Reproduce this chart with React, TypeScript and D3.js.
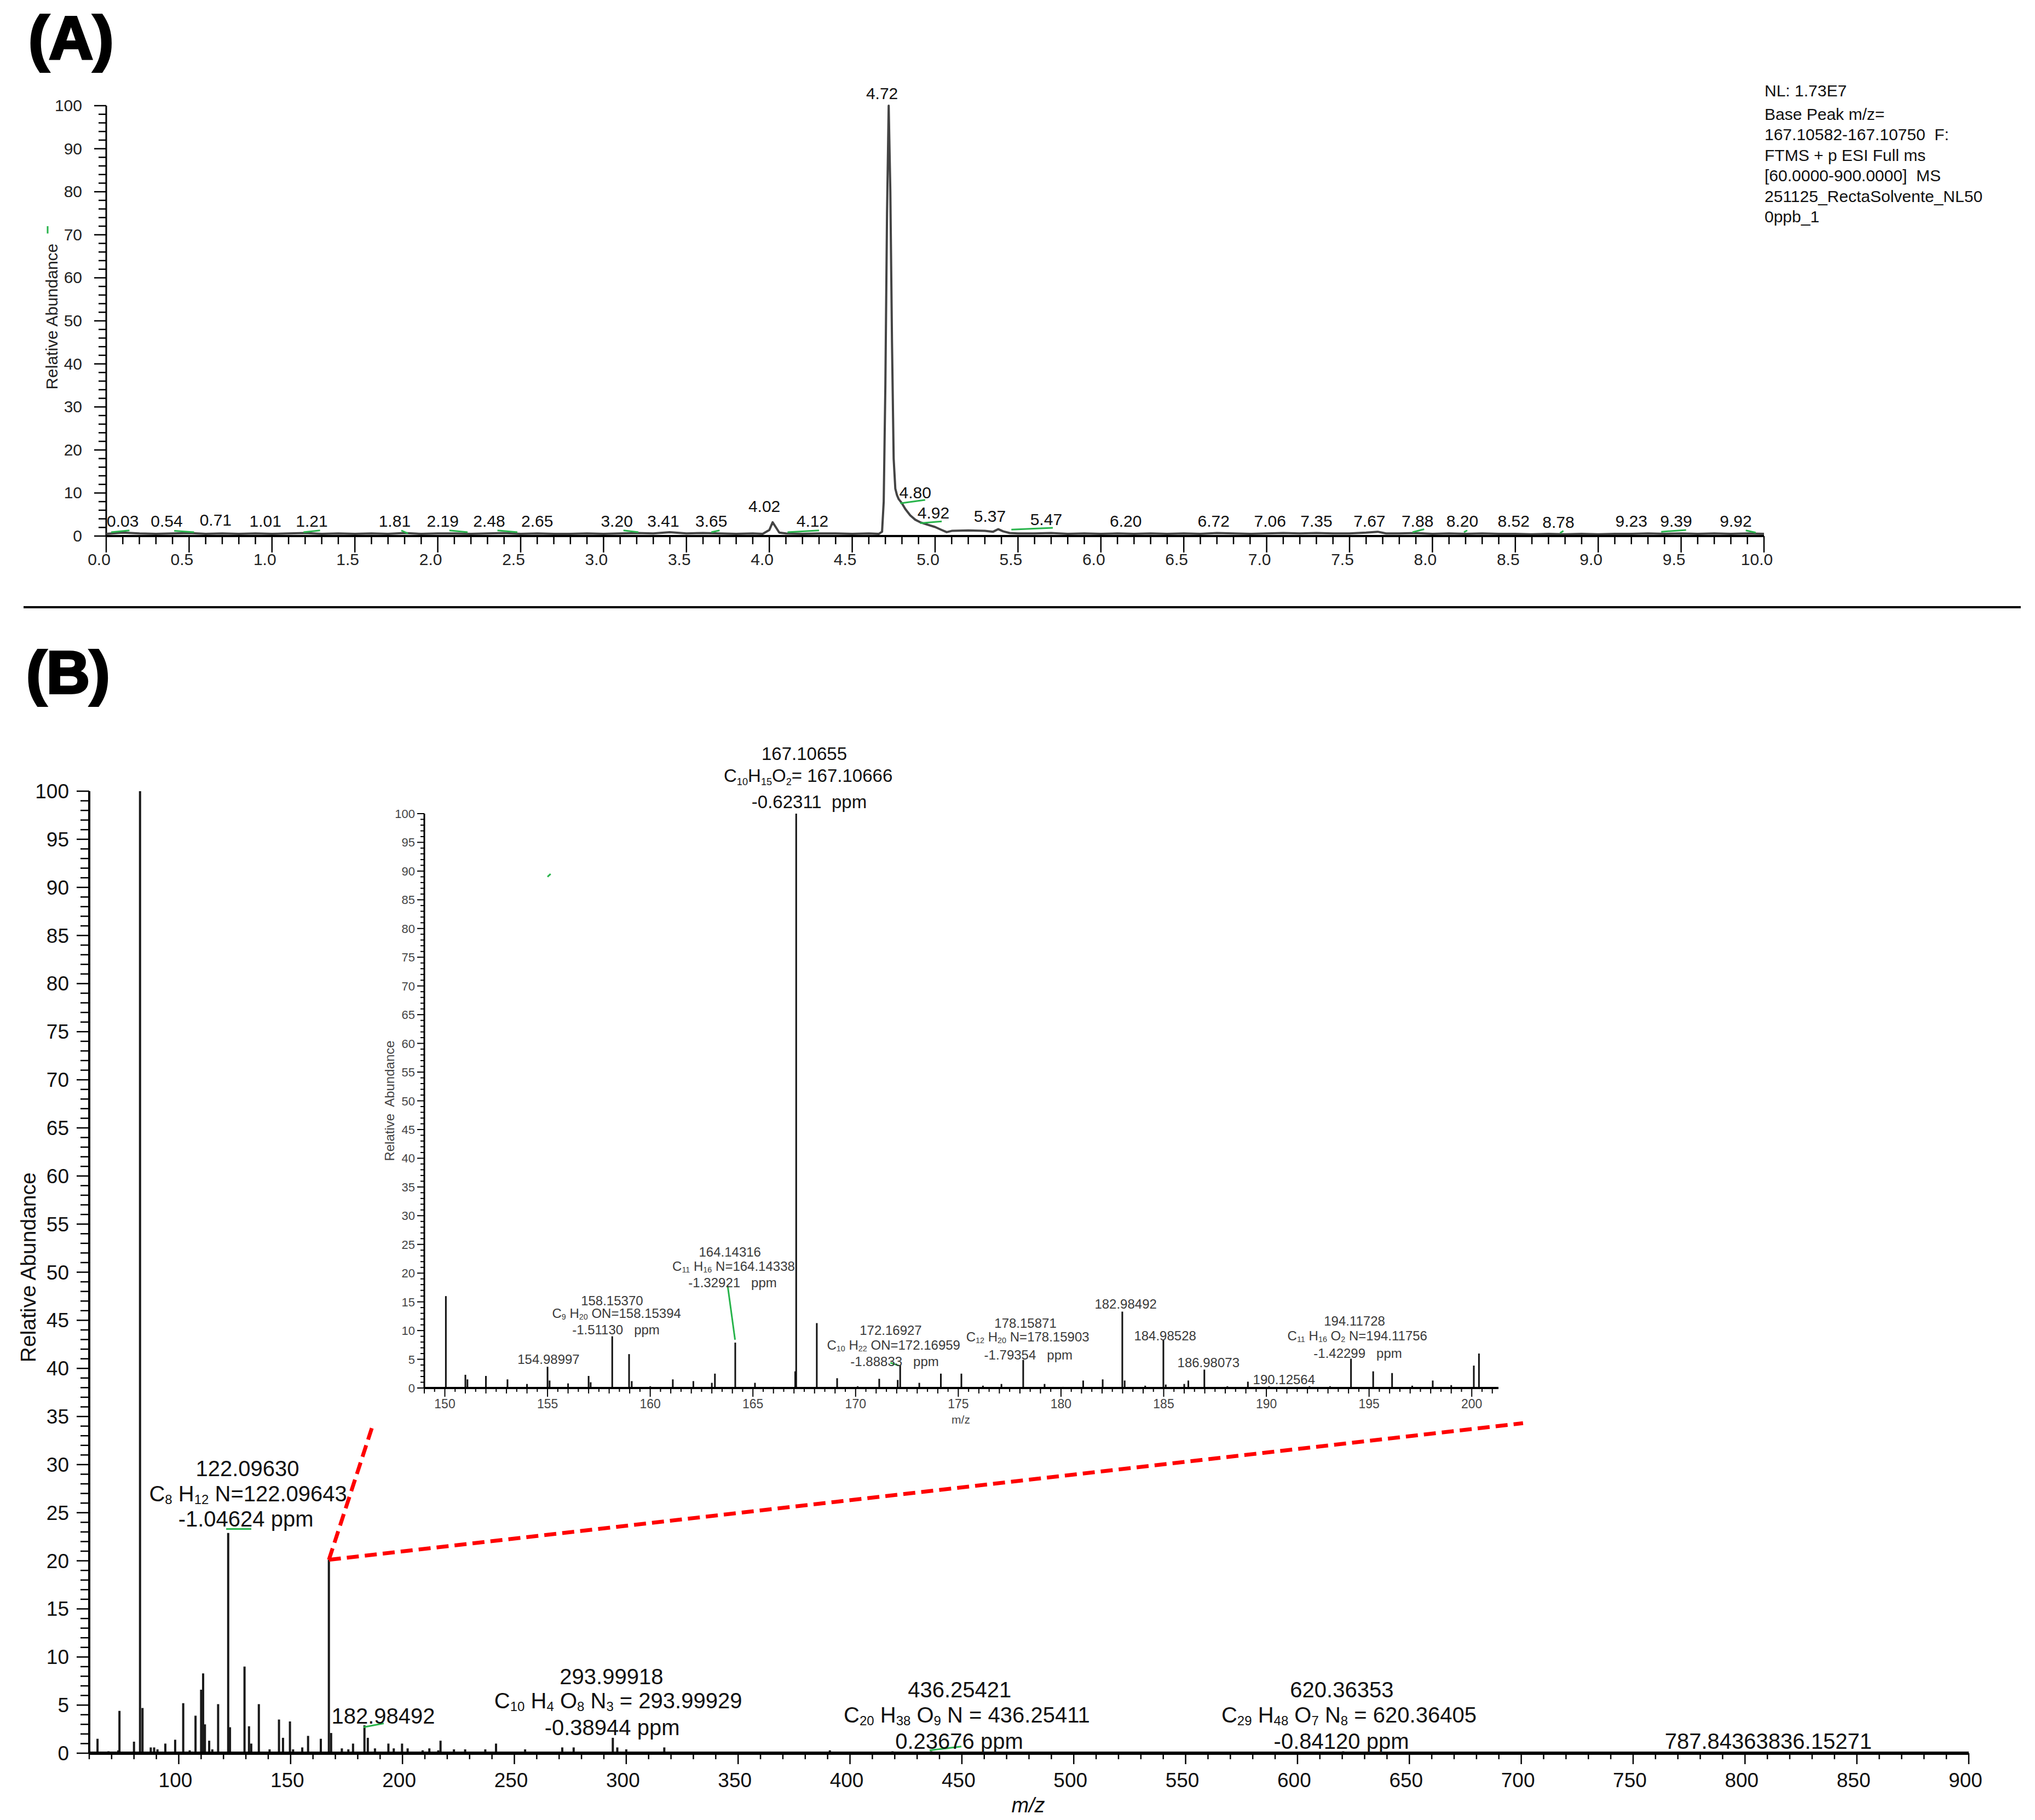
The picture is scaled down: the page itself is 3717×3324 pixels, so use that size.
import React from "react";
import * as d3 from "d3";

const W = 3717;
const H = 3324;
const FONT = "'Liberation Sans', Arial, Helvetica, sans-serif";
const GREEN = "#27b34a";

// ---------------- Panel A : chromatogram ----------------
const chromTime = [
  0.0, 0.1, 0.2, 0.3, 0.4, 0.5, 0.6, 0.7, 0.8, 0.9, 1.0, 1.1, 1.2, 1.3, 1.4, 1.5, 1.6, 1.7, 1.8, 1.9,
  2.0, 2.1, 2.2, 2.3, 2.4, 2.5, 2.6, 2.7, 2.8, 2.9, 3.0, 3.1, 3.2, 3.3, 3.4, 3.5, 3.6, 3.7, 3.8, 3.9,
  3.96, 4.0, 4.02, 4.04, 4.06, 4.1, 4.2, 4.3, 4.4, 4.5, 4.6, 4.66, 4.68, 4.69, 4.7, 4.71, 4.72, 4.73,
  4.74, 4.75, 4.76, 4.77, 4.78, 4.8, 4.82, 4.85, 4.88, 4.91, 4.95, 5.0, 5.04, 5.07, 5.1, 5.2, 5.3,
  5.35, 5.38, 5.41, 5.45, 5.5, 5.6, 5.7, 5.8, 5.9, 6.0, 6.1, 6.2, 6.3, 6.4, 6.5, 6.6, 6.7, 6.8, 6.9,
  7.0, 7.1, 7.2, 7.3, 7.4, 7.5, 7.6, 7.67, 7.72, 7.8, 7.9, 8.0, 8.1, 8.2, 8.3, 8.4, 8.5, 8.6, 8.7,
  8.8, 8.9, 9.0, 9.1, 9.2, 9.3, 9.4, 9.5, 9.6, 9.7, 9.8, 9.9, 10.0,
];
const chromAbund = [
  0.5, 0.8, 0.6, 0.5, 0.6, 0.7, 0.5, 0.6, 0.5, 0.6, 0.5, 0.6, 0.7, 0.5, 0.6, 0.5, 0.6, 0.5, 0.7, 0.5,
  0.6, 0.6, 0.5, 0.6, 0.7, 0.5, 0.6, 0.5, 0.5, 0.6, 0.5, 0.6, 0.7, 0.6, 0.9, 0.6, 0.7, 0.6, 0.5, 0.6,
  0.5, 1.4, 3.2, 2.0, 0.8, 0.6, 0.5, 0.6, 0.6, 0.5, 0.6, 0.5, 1.0, 8, 35, 75, 100, 80,
  45, 18, 11, 9.5, 8.6, 7.6, 6.3, 4.8, 3.8, 3.2, 2.7, 2.1, 1.4, 0.9, 1.2, 1.3, 1.2,
  1.0, 1.6, 1.1, 0.7, 0.6, 0.6, 0.7, 0.5, 0.6, 0.5, 0.6, 0.5, 0.6, 0.5, 0.6, 0.5, 0.7, 0.6, 0.5,
  0.6, 0.7, 0.6, 0.7, 0.6, 0.6, 0.8, 1.0, 0.6, 0.6, 0.7, 0.5, 0.6, 0.5, 0.6, 0.5, 0.5, 0.4, 0.5,
  0.4, 0.5, 0.4, 0.5, 0.5, 0.6, 0.5, 0.6, 0.5, 0.6, 0.5, 0.6, 0.5,
];
const rtLabelText = [
  "0.03", "0.54", "0.71", "1.01", "1.21", "1.81", "2.19", "2.48", "2.65", "3.20", "3.41", "3.65",
  "4.02", "4.12", "4.72", "4.80", "4.92", "5.37", "5.47", "6.20", "6.72", "7.06", "7.35", "7.67",
  "7.88", "8.20", "8.52", "8.78", "9.23", "9.39", "9.92",
];
const rtLabelTime = [
  0.1, 0.365, 0.66, 0.96, 1.24, 1.74, 2.03, 2.31, 2.6, 3.08, 3.36, 3.65,
  3.97, 4.26, 4.68, 4.88, 4.99, 5.33, 5.67, 6.15, 6.68, 7.02, 7.3, 7.62,
  7.91, 8.18, 8.49, 8.76, 9.2, 9.47, 9.83,
];
const rtLabelLevel = [
  3.6, 3.6, 3.8, 3.5, 3.5, 3.5, 3.5, 3.5, 3.5, 3.6, 3.6, 3.6,
  7.0, 3.6, 102.9, 10.2, 5.5, 4.7, 3.9, 3.6, 3.6, 3.6, 3.6, 3.6,
  3.6, 3.6, 3.6, 3.3, 3.6, 3.6, 3.6,
];
// green marker segments: [t1, v1, t2, v2]
const rtGreen = [
  [0.03, 0.9, 0.14, 1.3], [0.41, 1.2, 0.53, 0.9], [1.19, 0.9, 1.29, 1.3], [1.78, 1.3, 1.82, 0.6],
  [2.07, 1.3, 2.18, 0.9], [2.36, 1.3, 2.48, 0.9], [3.12, 1.3, 3.21, 0.9], [3.65, 0.9, 3.7, 1.3],
  [4.11, 0.9, 4.3, 1.3], [4.79, 7.6, 4.94, 8.4], [4.91, 3.0, 5.04, 3.4], [5.46, 1.5, 5.71, 1.9],
  [7.88, 0.9, 7.95, 1.6], [8.19, 0.9, 8.21, 1.3], [8.77, 0.7, 8.79, 1.2], [9.38, 1.0, 9.53, 1.4],
  [9.89, 1.3, 9.95, 0.8],
];
const headerLines = [
  "NL: 1.73E7",
  "Base Peak m/z=",
  "167.10582-167.10750  F:",
  "FTMS + p ESI Full ms",
  "[60.0000-900.0000]  MS",
  "251125_RectaSolvente_NL50",
  "0ppb_1",
];

// ---------------- Panel B : full spectrum ----------------
const specMz = [
  63.7, 68.6, 73.0, 73.5, 80.0, 82.7, 83.8, 87.5, 89.0, 90.5, 94.0, 98.4, 102.0, 104.9, 107.5, 110.0,
  110.9, 111.7, 113.6, 115.0, 117.6, 122.1, 122.9, 129.4, 131.4, 132.4, 135.8, 140.6, 144.8, 146.6,
  149.7, 151.1, 155.2, 157.8, 163.5, 167.1, 168.1, 172.9, 175.8, 177.9, 183.0, 184.5, 187.7, 193.7,
  196.1, 199.8, 202.3, 209.0, 212.0, 216.0, 217.0, 223.0, 228.0, 237.0, 241.8, 254.8, 271.4, 276.5,
  294.0, 296.0, 300.0, 317.0, 336.0, 361.0, 391.0, 419.0, 436.3, 620.4, 787.8, 836.2,
];
const specAb = [
  1.5, 0.2, 0.3, 4.4, 1.2, 100, 4.7, 0.6, 0.6, 0.4, 1.0, 1.4, 5.2, 0.3, 3.9, 6.6,
  8.3, 3.0, 1.3, 0.4, 5.1, 22.9, 2.7, 9.0, 2.8, 1.0, 5.1, 0.4, 3.5, 1.6,
  3.3, 0.4, 0.6, 1.8, 1.5, 20.1, 2.1, 0.5, 0.4, 1.0, 2.9, 1.6, 0.5, 1.0,
  0.5, 1.0, 0.5, 0.3, 0.5, 0.3, 1.3, 0.4, 0.4, 0.4, 1.0, 0.4, 0.6, 0.6,
  1.6, 0.6, 0.4, 0.6, 0.15, 0.15, 0.3, 0.2, 0.2, 0.2, 0.1, 0.1,
];
const specLabelText = [
  "122.09630", "C_{8} H_{12} N=122.09643", "-1.04624 ppm",
  "182.98492",
  "293.99918", "C_{10} H_{4} O_{8} N_{3} = 293.99929", "-0.38944 ppm",
  "436.25421", "C_{20} H_{38} O_{9} N = 436.25411", "0.23676 ppm",
  "620.36353", "C_{29} H_{48} O_{7} N_{8} = 620.36405", "-0.84120 ppm",
  "787.84363836.15271",
];
const specLabelMz = [130.7, 131.0, 130.0, 191.4, 293.4, 296.4, 293.7, 449.0, 452.2, 448.8, 619.8, 623.0, 619.6, 810.4];
const specLabelAb = [29.6, 27.0, 24.4, 3.9, 8.0, 5.5, 2.7, 6.6, 4.0, 1.25, 6.6, 4.0, 1.25, 1.25];
const specGreen = [
  [121.2, 23.3, 132.4, 23.3], [182.6, 2.7, 191.6, 3.1], [435.6, 0.3, 449.8, 0.7],
];
// zoom connector: from top of the 167 peak to the inset corners
const zoomFrom = [167.1, 20.1];
const zoomTo = [[187.0, 34.3], [700.8, 34.3]];

// ---------------- Panel B inset : 149-201 ----------------
const insetMz = [
  150.05, 151.0, 151.1, 152.0, 153.05, 154.0, 155.0, 155.1, 156.0, 157.0, 157.1, 158.15, 158.97, 159.1,
  160.0, 161.1, 162.1, 163.0, 163.15, 164.14, 165.1, 166.0, 167.06, 167.107, 168.11, 169.1, 170.1,
  171.15, 172.05, 172.17, 173.1, 174.15, 175.15, 176.2, 177.1, 178.16, 179.2, 180.1, 181.08, 182.03,
  182.985, 183.1, 184.1, 184.985, 185.1, 186.0, 186.2, 186.98, 188.1, 189.1, 190.13, 191.1, 192.1,
  193.1, 194.12, 195.2, 196.12, 197.1, 198.1, 199.0, 200.1, 200.35,
];
const insetAb = [
  16.0, 2.3, 1.5, 2.1, 1.5, 0.7, 3.7, 1.3, 0.8, 2.1, 1.0, 9.0, 5.9, 1.2,
  0.3, 1.5, 1.2, 0.9, 2.5, 7.9, 0.9, 0.2, 2.9, 100, 11.3, 1.7, 0.3,
  1.6, 1.4, 4.0, 0.9, 2.5, 2.5, 0.4, 0.7, 4.9, 0.7, 0.2, 1.3, 1.5,
  13.3, 1.3, 0.4, 8.3, 0.6, 0.7, 1.3, 3.2, 0.3, 1.1, 0.3, 0.2, 0.3,
  0.3, 5.1, 2.9, 2.6, 0.4, 1.3, 0.5, 3.9, 6.0,
];
const insetHeadText = ["167.10655", "C_{10}H_{15}O_{2}= 167.10666", "-0.62311  ppm"];
const insetHeadMz = [167.5, 167.69, 167.74];
const insetHeadAb = [110.5, 106.7, 102.1];
const insetLabelText = [
  "164.14316", "C_{11} H_{16} N=164.14338", "-1.32921   ppm",
  "158.15370", "C_{9} H_{20} ON=158.15394", "-1.51130   ppm",
  "154.98997",
  "172.16927", "C_{10} H_{22} ON=172.16959", "-1.88833   ppm",
  "178.15871", "C_{12} H_{20} N=178.15903", "-1.79354   ppm",
  "182.98492", "184.98528", "186.98073", "190.12564",
  "194.11728", "C_{11} H_{16} O_{2} N=194.11756", "-1.42299   ppm",
];
const insetLabelMz = [
  163.88, 164.06, 164.01, 158.14, 158.36, 158.33, 155.05, 171.71, 171.85, 171.9,
  178.27, 178.38, 178.41, 183.15, 185.07, 187.18, 190.86, 194.29, 194.43, 194.45,
];
const insetLabelAb = [
  23.7, 21.2, 18.4, 15.2, 13.0, 10.2, 5.0, 10.1, 7.5, 4.6,
  11.3, 8.9, 5.8, 14.6, 9.1, 4.4, 1.5, 11.7, 9.1, 6.1,
];
const insetGreen = [
  [163.77, 17.8, 164.13, 8.4], [171.69, 4.4, 172.11, 3.9], [155.0, 89.0, 155.15, 89.5],
];

// ---------------- helpers ----------------
function Rich(props: {
  text: string; x: number; y: number; size: number; fill?: string;
  anchor?: string; subScale?: number; subDrop?: number;
}) {
  const { text, x, y, size, fill = "#111", anchor = "middle", subScale = 0.6, subDrop = 0.12 } = props;
  const parts = text.split(/(_\{[^}]*\})/).filter((p) => p !== "");
  let lowered = false;
  const spans = parts.map((p, i) => {
    const isSub = p.startsWith("_{");
    const content = isSub ? p.slice(2, -1) : p;
    let dy = 0;
    if (isSub && !lowered) { dy = size * subDrop; lowered = true; }
    else if (!isSub && lowered) { dy = -size * subDrop; lowered = false; }
    return (
      <tspan key={i} fontSize={isSub ? size * subScale : size} dy={dy !== 0 ? dy : undefined}>
        {content}
      </tspan>
    );
  });
  return (
    <text x={x} y={y + size * 0.36} fontSize={size} fill={fill} textAnchor={anchor}
      fontFamily={FONT} style={{ whiteSpace: "pre" }}>
      {spans}
    </text>
  );
}

export default function App() {
  // scales
  const xA = d3.scaleLinear().domain([0, 10]).range([194, 3222]);
  const yA = d3.scaleLinear().domain([0, 100]).range([979, 193]);
  const xB = d3.scaleLinear().domain([60, 900]).range([163, 3596]);
  const yB = d3.scaleLinear().domain([0, 100]).range([3202, 1445]);
  const xI = d3.scaleLinear().domain([149, 201.3]).range([775, 2737]);
  const yI = d3.scaleLinear().domain([0, 100]).range([2535, 1486]);

  const chromLine = d3.line<number>()
    .x((_, i) => xA(chromTime[i]))
    .y((d) => yA(d))(chromAbund) || "";

  const yTicksA = d3.range(0, 101, 2);
  const xTicksA = d3.range(0, 101).map((i) => i / 10);
  const yTicksB = d3.range(0, 101, 1);
  const xTicksB = d3.range(60, 901, 10);
  const yTicksI = d3.range(0, 101, 1);
  const xTicksI = d3.range(298, 403).map((i) => i / 2);

  return (
    <svg width={W} height={H} viewBox={`0 0 ${W} ${H}`}
      style={{ position: "absolute", left: 0, top: 0, background: "#fff" }}
      fontFamily={FONT}>
      <rect x={0} y={0} width={W} height={H} fill="#fff" />

      {/* ===== Panel A ===== */}
      <text x={52} y={108} fontSize={112} fontWeight={900} fill="#000" stroke="#000" strokeWidth={4}
        fontFamily={FONT}>(A)</text>

      {/* y axis A */}
      <line x1={xA(0)} x2={xA(0)} y1={yA(0)} y2={yA(100)} stroke="#000" strokeWidth={3} />
      {yTicksA.map((v) => {
        const major = v % 10 === 0;
        return (
          <line key={"ya" + v} x1={xA(0) - (major ? 22 : 14)} x2={xA(0)} y1={yA(v)} y2={yA(v)}
            stroke="#000" strokeWidth={2.5} />
        );
      })}
      {yTicksA.filter((v) => v % 10 === 0).map((v) => (
        <text key={"yal" + v} x={150} y={yA(v) + 10} fontSize={30} textAnchor="end" fill="#222">{v}</text>
      ))}
      <text transform={`translate(97,${yA(51)}) rotate(-90)`} fontSize={30} textAnchor="middle"
        dominantBaseline="middle" fill="#222">Relative Abundance</text>
      <line x1={xA(0) - 107} x2={xA(0) - 107} y1={yA(70.3)} y2={yA(72)} stroke={GREEN} strokeWidth={3} />

      {/* trace */}
      <path d={chromLine} fill="none" stroke="#444" strokeWidth={4} strokeLinejoin="round" />

      {/* x axis A */}
      <line x1={xA(0)} x2={xA(10)} y1={yA(0)} y2={yA(0)} stroke="#000" strokeWidth={4} />
      {xTicksA.map((t, i) => {
        const major = i % 5 === 0;
        return (
          <line key={"xa" + i} x1={xA(t)} x2={xA(t)} y1={yA(0)} y2={yA(0) + (major ? 30 : 15)}
            stroke="#000" strokeWidth={2.5} />
        );
      })}
      {xTicksA.filter((_, i) => i % 5 === 0).map((t) => (
        <text key={"xal" + t} x={xA(t) - 13} y={1032} fontSize={30} textAnchor="middle" fill="#222">
          {t.toFixed(1)}
        </text>
      ))}

      {/* green marks A */}
      {rtGreen.map((g, i) => (
        <line key={"ga" + i} x1={xA(g[0])} y1={yA(g[1])} x2={xA(g[2])} y2={yA(g[3])}
          stroke={GREEN} strokeWidth={3} />
      ))}
      {/* RT labels */}
      {rtLabelText.map((s, i) => (
        <text key={"rt" + i} x={xA(rtLabelTime[i])} y={yA(rtLabelLevel[i]) + 11} fontSize={30}
          textAnchor="middle" fill="#111">{s}</text>
      ))}

      {/* header text */}
      {headerLines.map((s, i) => (
        <text key={"hd" + i} x={3223} y={(i === 0 ? 166 : 209 + (i - 1) * 37.4) + 10} fontSize={30}
          fill="#111" style={{ whiteSpace: "pre" }}>{s}</text>
      ))}

      {/* divider */}
      <line x1={43} x2={3691} y1={1109} y2={1109} stroke="#000" strokeWidth={4} />

      {/* ===== Panel B ===== */}
      <text x={48} y={1266} fontSize={110} fontWeight={900} fill="#000" stroke="#000" strokeWidth={4}
        fontFamily={FONT}>(B)</text>

      {/* main spectrum bars */}
      {specMz.map((m, i) => (
        <line key={"sb" + i} x1={xB(m)} x2={xB(m)} y1={yB(0)} y2={yB(specAb[i])}
          stroke="#1a1a1a" strokeWidth={4} />
      ))}

      {/* y axis B */}
      <line x1={xB(60)} x2={xB(60)} y1={yB(0)} y2={yB(100)} stroke="#000" strokeWidth={4} />
      {yTicksB.map((v) => {
        const major = v % 5 === 0;
        return (
          <line key={"yb" + v} x1={xB(60) - (major ? 23 : 16)} x2={xB(60)} y1={yB(v)} y2={yB(v)}
            stroke="#000" strokeWidth={2.5} />
        );
      })}
      {yTicksB.filter((v) => v % 5 === 0).map((v) => (
        <text key={"ybl" + v} x={126} y={yB(v) + 13} fontSize={37} textAnchor="end" fill="#111">{v}</text>
      ))}
      <text transform={`translate(55,${yB(50.5)}) rotate(-90)`} fontSize={39} textAnchor="middle"
        dominantBaseline="middle" fill="#111">Relative Abundance</text>

      {/* x axis B */}
      <line x1={xB(60)} x2={xB(900)} y1={yB(0)} y2={yB(0)} stroke="#000" strokeWidth={6} />
      {xTicksB.map((m) => {
        const major = m % 50 === 0;
        return (
          <line key={"xb" + m} x1={xB(m)} x2={xB(m)} y1={yB(0)} y2={yB(0) + (major ? 20 : 11)}
            stroke="#000" strokeWidth={2.5} />
        );
      })}
      {xTicksB.filter((m) => m % 50 === 0 && m >= 100).map((m) => (
        <text key={"xbl" + m} x={xB(m) - 6} y={3264} fontSize={37} textAnchor="middle" fill="#111">{m}</text>
      ))}
      <text x={1878} y={3310} fontSize={38} fontStyle="italic" textAnchor="middle" fill="#111">m/z</text>

      {/* main labels */}
      {specGreen.map((g, i) => (
        <line key={"gb" + i} x1={xB(g[0])} y1={yB(g[1])} x2={xB(g[2])} y2={yB(g[3])}
          stroke={GREEN} strokeWidth={3} />
      ))}
      {specLabelText.map((s, i) => (
        <Rich key={"sl" + i} text={s} x={xB(specLabelMz[i])} y={yB(specLabelAb[i])} size={40} fill="#111" />
      ))}

      {/* zoom connector */}
      {zoomTo.map((p, i) => (
        <line key={"zc" + i} x1={xB(zoomFrom[0])} y1={yB(zoomFrom[1])} x2={xB(p[0])} y2={yB(p[1])}
          stroke="#ff0000" strokeWidth={7} strokeDasharray="22 11" />
      ))}

      {/* ===== Inset ===== */}
      {insetMz.map((m, i) => (
        <line key={"ib" + i} x1={xI(m)} x2={xI(m)} y1={yI(0)} y2={yI(insetAb[i])}
          stroke="#111" strokeWidth={3} />
      ))}
      <line x1={xI(149)} x2={xI(149)} y1={yI(0)} y2={yI(100)} stroke="#000" strokeWidth={3} />
      {yTicksI.map((v) => {
        const major = v % 5 === 0;
        return (
          <line key={"yi" + v} x1={xI(149) - (major ? 13 : 7)} x2={xI(149)} y1={yI(v)} y2={yI(v)}
            stroke="#000" strokeWidth={2} />
        );
      })}
      {yTicksI.filter((v) => v % 5 === 0).map((v) => (
        <text key={"yil" + v} x={758} y={yI(v) + 8} fontSize={22} textAnchor="end" fill="#444">{v}</text>
      ))}
      <text transform={`translate(714,${yI(50)}) rotate(-90)`} fontSize={24} textAnchor="middle"
        dominantBaseline="middle" fill="#444" style={{ whiteSpace: "pre" }}>Relative  Abundance</text>

      <line x1={xI(149)} x2={xI(201.3)} y1={yI(0)} y2={yI(0)} stroke="#000" strokeWidth={4} />
      {xTicksI.map((m) => {
        const len = m % 5 === 0 ? 16 : Number.isInteger(m) ? 10 : 7;
        return (
          <line key={"xi" + m} x1={xI(m)} x2={xI(m)} y1={yI(0)} y2={yI(0) + len}
            stroke="#000" strokeWidth={2} />
        );
      })}
      {xTicksI.filter((m) => m % 5 === 0).map((m) => (
        <text key={"xil" + m} x={xI(m)} y={2572} fontSize={23} textAnchor="middle" fill="#444">{m}</text>
      ))}
      <text x={1755} y={2600} fontSize={21} textAnchor="middle" fill="#444">m/z</text>

      {insetGreen.map((g, i) => (
        <line key={"gi" + i} x1={xI(g[0])} y1={yI(g[1])} x2={xI(g[2])} y2={yI(g[3])}
          stroke={GREEN} strokeWidth={3} />
      ))}
      {insetHeadText.map((s, i) => (
        <Rich key={"ih" + i} text={s} x={xI(insetHeadMz[i])} y={yI(insetHeadAb[i])} size={33}
          fill="#111" subScale={0.55} subDrop={0.2} />
      ))}
      {insetLabelText.map((s, i) => (
        <Rich key={"il" + i} text={s} x={xI(insetLabelMz[i])} y={yI(insetLabelAb[i])} size={24}
          fill="#3a3a3a" />
      ))}
    </svg>
  );
}
